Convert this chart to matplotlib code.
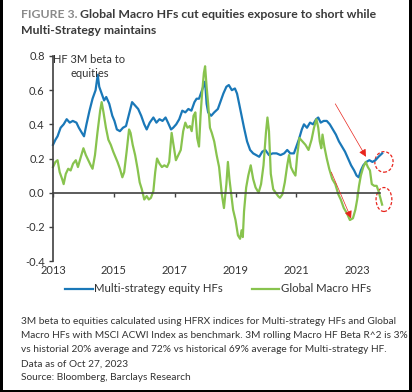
import matplotlib
matplotlib.use("Agg")
import matplotlib.pyplot as plt
from matplotlib.patches import Ellipse, Rectangle

plt.rcParams['font.family'] = ['Lato', 'DejaVu Sans']

# decimal years, 3M beta of the HFRX multi-strategy index
multi_years = [2013.00, 2013.08, 2013.15, 2013.25, 2013.35, 2013.45, 2013.55, 2013.65, 2013.77, 2013.85,
               2013.95, 2014.02, 2014.10, 2014.20, 2014.30, 2014.40, 2014.47, 2014.52, 2014.60, 2014.68,
               2014.75, 2014.85, 2014.95, 2015.02, 2015.10, 2015.20, 2015.30, 2015.40, 2015.50, 2015.60,
               2015.70, 2015.80, 2015.90, 2016.00, 2016.08, 2016.18, 2016.30, 2016.40, 2016.50, 2016.60,
               2016.70, 2016.78, 2016.88, 2016.95, 2017.05, 2017.15, 2017.25, 2017.35, 2017.45, 2017.55,
               2017.65, 2017.72, 2017.80, 2017.88, 2017.96, 2018.00, 2018.05, 2018.10, 2018.20, 2018.30,
               2018.42, 2018.50, 2018.60, 2018.70, 2018.78, 2018.88, 2018.98, 2019.05, 2019.12, 2019.20,
               2019.28, 2019.38, 2019.48, 2019.58, 2019.68, 2019.78, 2019.88, 2019.98, 2020.10, 2020.22,
               2020.35, 2020.48, 2020.60, 2020.70, 2020.80, 2020.92, 2021.00, 2021.08, 2021.18, 2021.25,
               2021.35, 2021.45, 2021.55, 2021.65, 2021.72, 2021.80, 2021.90, 2022.00, 2022.10, 2022.20,
               2022.30, 2022.40, 2022.50, 2022.60, 2022.70, 2022.80, 2022.90, 2022.98, 2023.05, 2023.12,
               2023.20, 2023.30, 2023.40, 2023.50, 2023.60, 2023.70, 2023.82]
multi_beta = [0.28, 0.31, 0.33, 0.38, 0.40, 0.43, 0.41, 0.42, 0.41, 0.38,
              0.35, 0.33, 0.40, 0.48, 0.55, 0.60, 0.69, 0.62, 0.58, 0.54,
              0.56, 0.52, 0.45, 0.42, 0.37, 0.36, 0.38, 0.39, 0.46, 0.53,
              0.51, 0.49, 0.45, 0.40, 0.37, 0.41, 0.44, 0.41, 0.43, 0.42,
              0.44, 0.41, 0.37, 0.38, 0.40, 0.43, 0.48, 0.47, 0.49, 0.48,
              0.53, 0.55, 0.55, 0.59, 0.63, 0.65, 0.52, 0.47, 0.45, 0.47,
              0.49, 0.53, 0.58, 0.62, 0.63, 0.60, 0.61, 0.58, 0.52, 0.45,
              0.38, 0.30, 0.25, 0.23, 0.22, 0.21, 0.24, 0.25, 0.22, 0.23,
              0.23, 0.22, 0.23, 0.25, 0.23, 0.23, 0.27, 0.31, 0.37, 0.40,
              0.38, 0.41, 0.40, 0.43, 0.44, 0.41, 0.42, 0.42, 0.40, 0.37,
              0.34, 0.30, 0.27, 0.24, 0.20, 0.16, 0.13, 0.10, 0.09, 0.13,
              0.16, 0.18, 0.19, 0.18, 0.19, 0.21, 0.23]

# decimal years, 3M beta of the HFRX global macro index
macro_years = [2013.00, 2013.08, 2013.15, 2013.22, 2013.30, 2013.35, 2013.42, 2013.50, 2013.58, 2013.66,
               2013.75, 2013.82, 2013.90, 2014.00, 2014.08, 2014.16, 2014.24, 2014.30, 2014.38, 2014.46,
               2014.55, 2014.60, 2014.66, 2014.74, 2014.82, 2014.90, 2014.98, 2015.05, 2015.12, 2015.20,
               2015.28, 2015.34, 2015.42, 2015.50, 2015.55, 2015.62, 2015.70, 2015.78, 2015.85, 2015.92,
               2016.00, 2016.08, 2016.15, 2016.22, 2016.30, 2016.36, 2016.42, 2016.50, 2016.58, 2016.66,
               2016.75, 2016.82, 2016.90, 2016.96, 2017.04, 2017.12, 2017.20, 2017.28, 2017.35, 2017.42,
               2017.50, 2017.56, 2017.62, 2017.68, 2017.74, 2017.80, 2017.85, 2017.90, 2017.96, 2018.00,
               2018.05, 2018.10, 2018.16, 2018.22, 2018.30, 2018.38, 2018.46, 2018.55, 2018.62, 2018.70,
               2018.75, 2018.80, 2018.86, 2018.92, 2019.00, 2019.08, 2019.15, 2019.20, 2019.24, 2019.28,
               2019.35, 2019.42, 2019.50, 2019.58, 2019.66, 2019.76, 2019.84, 2019.92, 2020.00, 2020.05,
               2020.10, 2020.16, 2020.24, 2020.32, 2020.40, 2020.46, 2020.54, 2020.62, 2020.70, 2020.76,
               2020.82, 2020.90, 2020.97, 2021.03, 2021.10, 2021.20, 2021.30, 2021.40, 2021.50, 2021.58,
               2021.66, 2021.72, 2021.77, 2021.82, 2021.86, 2021.92, 2022.00, 2022.08, 2022.18, 2022.28,
               2022.38, 2022.46, 2022.56, 2022.66, 2022.76, 2022.86, 2022.94, 2023.00, 2023.06, 2023.12,
               2023.20, 2023.28, 2023.35, 2023.42, 2023.48, 2023.56, 2023.64, 2023.70, 2023.76, 2023.82]
macro_beta = [0.15, 0.18, 0.19, 0.12, 0.08, 0.05, 0.11, 0.14, 0.13, 0.17,
              0.19, 0.15, 0.20, 0.26, 0.22, 0.19, 0.16, 0.14, 0.22, 0.35,
              0.48, 0.53, 0.47, 0.38, 0.31, 0.28, 0.24, 0.21, 0.18, 0.14,
              0.09, 0.12, 0.24, 0.37, 0.35, 0.28, 0.22, 0.14, 0.06, 0.02,
              -0.04, -0.02, -0.04, -0.03, 0.01, 0.12, 0.20, 0.17, 0.15, 0.16,
              0.15, 0.18, 0.35, 0.28, 0.19, 0.22, 0.25, 0.36, 0.41, 0.38,
              0.39, 0.36, 0.45, 0.47, 0.32, 0.27, 0.45, 0.58, 0.70, 0.74,
              0.62, 0.52, 0.38, 0.35, 0.30, 0.22, 0.15, -0.01, -0.09, 0.05,
              0.18, 0.08, -0.01, -0.10, -0.16, -0.25, -0.27, -0.22, -0.26, -0.11,
              0.03, 0.10, 0.16, 0.08, 0.03, 0.00, 0.05, 0.16, 0.35, 0.44,
              0.36, 0.11, 0.02, 0.00, -0.02, -0.03, -0.01, 0.06, 0.16, 0.22,
              0.15, 0.12, 0.10, 0.22, 0.32, 0.30, 0.28, 0.25, 0.31, 0.38,
              0.43, 0.38, 0.30, 0.26, 0.34, 0.27, 0.20, 0.14, 0.08, 0.05,
              -0.01, -0.04, -0.09, -0.12, -0.16, -0.15, -0.10, -0.04, 0.04, 0.10,
              0.15, 0.18, 0.15, 0.13, 0.05, 0.04, 0.04, 0.01, -0.03, -0.07]

year_ticks = [2013, 2015, 2017, 2019, 2021, 2023]
beta_ticks = [-0.4, -0.2, 0.0, 0.2, 0.4, 0.6, 0.8]

blue = '#1a78b8'
green = '#88c34e'
axis_grey = '#404040'
text_grey = '#333333'

fig = plt.figure(figsize=(4.12, 3.92), dpi=100)
ax = fig.add_axes([53 / 412, 131 / 392, 327 / 412, 205 / 392])

ax.plot(multi_years, multi_beta, color=blue, lw=1.6, clip_on=False,
        label='Multi-strategy equity HFs')
ax.plot(macro_years, macro_beta, color=green, lw=1.6, clip_on=False,
        label='Global Macro HFs')

ax.set_xlim(2013, 2023.75)
ax.set_ylim(-0.4, 0.8)
ax.set_yticks(beta_ticks)
ax.set_yticklabels(['%.1f' % b for b in beta_ticks], color=text_grey, fontsize=8)
ax.set_xticks(year_ticks)
ax.set_xticklabels([])
for s in ['top', 'right']:
    ax.spines[s].set_visible(False)
ax.spines['bottom'].set_position(('data', 0))
ax.spines['bottom'].set_color(axis_grey)
ax.spines['left'].set_color(axis_grey)
ax.spines['left'].set_linewidth(1.2)
ax.spines['bottom'].set_linewidth(1.2)
ax.tick_params(axis='both', direction='out', length=3, width=1, color=axis_grey)
ax.tick_params(axis='y', pad=3)

for yr in year_ticks:
    ax.text(yr, -0.425, str(yr), ha='center', va='top', fontsize=8,
            color=text_grey, clip_on=False)

ax.text(2014.2, 0.81, 'HF 3M beta to\nequities', ha='center', va='top',
        fontsize=8, color=text_grey, linespacing=1.3)

# red call-outs
ax.annotate('', xy=(2023.29, 0.21), xytext=(2022.28, 0.52),
            arrowprops=dict(arrowstyle='-|>', color='#e8241c', lw=0.5,
                            mutation_scale=11, shrinkA=0, shrinkB=0))
ax.annotate('', xy=(2022.80, -0.15), xytext=(2022.15, 0.12),
            arrowprops=dict(arrowstyle='-|>', color='#e8241c', lw=0.5,
                            mutation_scale=11, shrinkA=0, shrinkB=0))
ax.add_patch(Ellipse((2023.88, 0.18), 0.6, 0.12, fill=False, ec='#e8241c',
                     ls=(0, (2.5, 1.5)), lw=0.9, clip_on=False))
ax.add_patch(Ellipse((2023.88, -0.04), 0.52, 0.14, fill=False, ec='#e8241c',
                     ls=(0, (2.5, 1.5)), lw=0.9, clip_on=False))

leg = fig.legend(loc='center', bbox_to_anchor=(218 / 412, 1 - 289 / 392), ncol=2,
                 frameon=False, fontsize=8.2, handlelength=2.4, handletextpad=0.1,
                 columnspacing=2.6)
for t in leg.get_texts():
    t.set_color(text_grey)

# title
renderer = fig.canvas.get_renderer()
t1 = fig.text(21 / 412, 1 - 15 / 392, 'FIGURE 3.', fontsize=8.8, fontweight='bold',
              color='#8a8a8a', va='center', ha='left')
w = t1.get_window_extent(renderer).width
fig.text((21 + w + 3) / 412, 1 - 15 / 392,
         'Global Macro HFs cut equities exposure to short while',
         fontsize=8.8, fontweight='bold', color='#3a3a3a', va='center', ha='left')
fig.text(21 / 412, 1 - 30 / 392, 'Multi-Strategy maintains', fontsize=8.8,
         fontweight='bold', color='#3a3a3a', va='center', ha='left')

caption = ['3M beta to equities calculated using HFRX indices for Multi-strategy HFs and Global',
           'Macro HFs with MSCI ACWI Index as benchmark. 3M rolling Macro HF Beta R^2 is 3%',
           'vs historial 20% average and 72% vs historical 69% average for Multi-strategy HF.',
           'Data as of Oct 27, 2023',
           'Source: Bloomberg, Barclays Research']
for i, line in enumerate(caption):
    fig.text(21 / 412, 1 - (322 + 14 * i) / 392, line, fontsize=7.25,
             color=text_grey, va='center', ha='left')

# frame around the figure
for x0, y0, w0, h0 in [(0, 0, 2.5 / 412, 1), (409 / 412, 0, 3 / 412, 1), (0, 0, 1, 2.5 / 392)]:
    fig.add_artist(Rectangle((x0, y0), w0, h0, transform=fig.transFigure,
                             color='black', lw=0))

fig.savefig('out.png', dpi=100)
